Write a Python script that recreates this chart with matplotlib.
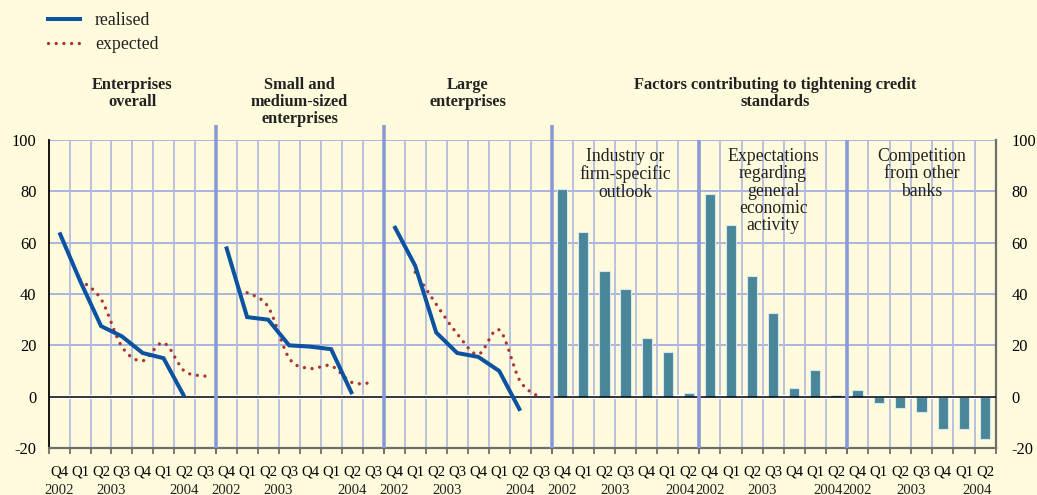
import numpy as np
import matplotlib
matplotlib.use('Agg')
import matplotlib.pyplot as plt
from matplotlib.path import Path
from matplotlib.patches import PathPatch
from matplotlib.lines import Line2D
import matplotlib.transforms as mtransforms

# ---------------- data ----------------
quarters_line = ['Q4', 'Q1', 'Q2', 'Q3', 'Q4', 'Q1', 'Q2', 'Q3']
quarters_bar = ['Q4', 'Q1', 'Q2', 'Q3', 'Q4', 'Q1', 'Q2']
years_line = ['2002', '2003', '2004']
years_line_pos = [0, 2.5, 6]
years_bar = ['2002', '2003', '2004']
years_bar_pos = [0, 2.5, 5.6]

nan = np.nan
overall_realised = [64, 45, 27.5, 23.5, 17, 15, 0, nan]
overall_expected = [nan, 45.5, 38, 19.5, 14, 21, 10, 8]
sme_realised = [58.5, 31, 30, 20, 19.5, 18.5, 1, nan]
sme_expected = [nan, 40.5, 35, 15, 11, 12, 5.5, 5.5]
large_realised = [66.5, 51, 25, 17, 15.5, 10, -5.5, nan]
large_expected = [nan, 48.5, 36, 24.5, 16.5, 26, 6, -0.5]

industry_outlook = [81, 64, 49, 42, 23, 17.5, 1.5]
economic_expectations = [79, 67, 47, 32.5, 3.5, 10.5, 0.5]
bank_competition = [2.5, -2.5, -4.5, -6, -12.5, -12.5, -16.5]

line_titles = ['Enterprises\noverall', 'Small and\nmedium-sized\nenterprises',
               'Large\nenterprises']
bar_title = 'Factors contributing to tightening credit\nstandards'
bar_labels = ['Industry or\nfirm-specific\noutlook',
              'Expectations\nregarding\ngeneral\neconomic\nactivity',
              'Competition\nfrom other\nbanks']
legend_labels = ['realised', 'expected']
y_ticks = [-20, 0, 20, 40, 60, 80, 100]

# ---------------- style ----------------
BG = '#FFFBDC'
BLUE = '#0B52A0'
RED = '#B0322E'
TEAL = '#4A8699'
GRID = '#A2AEDF'
VGRID = '#B3BCE0'
SEP = '#8B99D6'
AXGRAY = '#6E6E6E'

plt.rcParams['font.family'] = ['Liberation Serif', 'DejaVu Serif']
plt.rcParams['text.color'] = '#222222'

fig = plt.figure(figsize=(10.37, 4.95), dpi=100, facecolor=BG)
W, H = 1037, 495
left, right = 49 / W, 996 / W
top, bottom = 1 - 140 / H, 1 - 448 / H
gs = fig.add_gridspec(1, 6, left=left, right=right, top=top, bottom=bottom,
                      wspace=0, width_ratios=[166.5, 168, 168, 147.5, 147.5, 149])
axes = [fig.add_subplot(gs[0, i]) for i in range(6)]


def smooth_path(xs, ys):
    pts = np.column_stack([xs, ys])
    verts = [pts[0]]
    codes = [Path.MOVETO]
    n = len(pts)
    for i in range(n - 1):
        p0 = pts[i - 1] if i > 0 else pts[i]
        p1 = pts[i]
        p2 = pts[i + 1]
        p3 = pts[i + 2] if i + 2 < n else pts[i + 1]
        verts += [p1 + (p2 - p0) / 6, p2 - (p3 - p1) / 6, p2]
        codes += [Path.CURVE4] * 3
    return Path(verts, codes)


def base_axes(ax, cats, idx):
    n = len(cats)
    ax.set_facecolor(BG)
    ax.set_xlim(-0.5, n - 0.5)
    ax.set_ylim(-20, 100)
    for v in [20, 40, 60, 80, 100]:
        ax.axhline(v, color=GRID, lw=1.3, zorder=1)
    for b in np.arange(0.5, n - 0.5):
        ax.axvline(b, color=VGRID, lw=1.3, zorder=1)
    ax.axhline(0, color='white', lw=3.0, zorder=2)
    ax.axhline(0, color='black', lw=1.1, zorder=5)
    for s in ['top', 'left', 'right']:
        ax.spines[s].set_visible(False)
    ax.spines['bottom'].set_color(AXGRAY)
    ax.spines['bottom'].set_linewidth(1.6)
    ax.set_xticks(np.arange(-0.5, n), [''] * (n + 1))
    ax.set_xticks(np.arange(n), cats, minor=True)
    ax.tick_params(axis='x', which='major', length=4, width=1.3, color=AXGRAY,
                   direction='out')
    ax.tick_params(axis='x', which='minor', length=0, pad=12.5, labelsize=10.6)
    ax.set_yticks([])
    trans = mtransforms.blended_transform_factory(ax.transData, ax.transAxes)
    ypos = years_line_pos if n == 8 else years_bar_pos
    ylab = years_line if n == 8 else years_bar
    for lab, xp in zip(ylab, ypos):
        ax.text(xp, -0.138, lab, transform=trans, ha='center', va='center',
                fontsize=10.6)
    if idx > 0:
        top_ext = 106 if idx <= 3 else 100
        ax.plot([-0.5, -0.5], [-20, top_ext], color=SEP, lw=2.6,
                clip_on=False, zorder=6, solid_capstyle='butt')


line_sets = [(overall_realised, overall_expected),
             (sme_realised, sme_expected),
             (large_realised, large_expected)]
for i, (real, expd) in enumerate(line_sets):
    ax = axes[i]
    base_axes(ax, quarters_line, i)
    x = np.arange(len(quarters_line))
    ax.plot(x, real, color=BLUE, lw=2.9, zorder=7, solid_joinstyle='miter',
            solid_capstyle='butt')
    e = np.array(expd, dtype=float)
    m = ~np.isnan(e)
    patch = PathPatch(smooth_path(x[m], e[m]), fill=False, edgecolor=RED,
                      lw=2.4, linestyle=(0, (0.01, 2.3)), capstyle='round',
                      zorder=6)
    ax.add_patch(patch)
    ax.text(0.5, 1.203, line_titles[i], transform=ax.transAxes, ha='center',
            va='top', fontsize=11.8, fontweight='bold', linespacing=1.08)

bar_sets = [industry_outlook, economic_expectations, bank_competition]
for j, vals in enumerate(bar_sets):
    ax = axes[3 + j]
    base_axes(ax, quarters_bar, 3 + j)
    x = np.arange(len(quarters_bar))
    ax.bar(x, vals, width=0.48, color=TEAL, edgecolor='#D5E6EE', linewidth=0.8,
           zorder=4)
    ax.text(3, 96.8, bar_labels[j], ha='center', va='top', fontsize=12.8,
            linespacing=1.02, zorder=8)

# y axes
ax0 = axes[0]
ax0.spines['left'].set_visible(True)
ax0.spines['left'].set_color('black')
ax0.spines['left'].set_linewidth(1.3)
ax0.set_yticks(y_ticks, [str(v) for v in y_ticks])
ax0.tick_params(axis='y', length=0, pad=9, labelsize=11.8)

ax5 = axes[5]
ax5.spines['right'].set_visible(True)
ax5.spines['right'].set_color(AXGRAY)
ax5.spines['right'].set_linewidth(1.6)
ax5.yaxis.tick_right()
ax5.set_yticks(y_ticks, [str(v) for v in y_ticks])
ax5.tick_params(axis='y', length=0, pad=11, labelsize=11.8)

fig.text(775 / W, 1 - 77 / H, bar_title, ha='center', va='top', fontsize=11.8,
         fontweight='bold', linespacing=1.08)

handles = [Line2D([], [], color=BLUE, lw=2.9),
           Line2D([], [], color=RED, lw=2.4, linestyle=(0, (0.01, 2.3)),
                  dash_capstyle='round')]
fig.legend(handles, legend_labels, loc='upper left',
           bbox_to_anchor=(48 / W, 1 - 12 / H), frameon=False, fontsize=12.8,
           handlelength=1.8, handletextpad=0.85, labelspacing=0.42,
           borderaxespad=0, borderpad=0)

fig.savefig('out.png', dpi=100, facecolor=BG)
